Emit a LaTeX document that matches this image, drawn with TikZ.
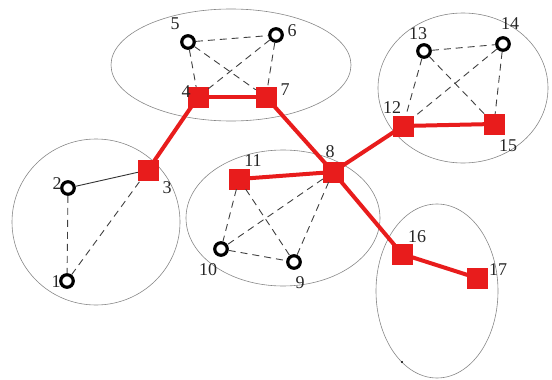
\documentclass[tikz,border=0pt]{standalone}
\usepackage{fontspec}
\setmainfont{Liberation Serif}
\definecolor{netred}{RGB}{232,28,28}
\definecolor{ringgray}{RGB}{135,135,135}
\begin{document}
\begin{tikzpicture}[x=1pt,y=-1pt,
  hub/.style={draw=netred,fill=netred,minimum size=20pt,inner sep=0pt,rectangle},
  leaf/.style={draw=black,fill=white,line width=3.2pt,circle,minimum size=12.5pt,inner sep=0pt},
  lbl/.style={font=\fontsize{18}{18}\selectfont,inner sep=0pt,text=black!85},
  ring/.style={draw=ringgray,line width=0.6pt},
  backbone/.style={draw=netred,line width=4pt},
  link/.style={draw=black!75,line width=0.9pt,dash pattern=on 7pt off 5pt},
  solidlink/.style={draw=black!80,line width=0.9pt}]
\useasboundingbox (0,0) rectangle (552,380);
% clusters
\draw[ring] (231,65) ellipse [x radius=120,y radius=56];
\draw[ring] (96,222) ellipse [x radius=84,y radius=83];
\draw[ring] (283,218) ellipse [x radius=97,y radius=68];
\draw[ring] (463,88) ellipse [x radius=85,y radius=75];
\draw[ring] (437,291) ellipse [x radius=61,y radius=87];
\fill (402,362) circle [radius=1.2pt];
% nodes
\node[leaf] (n5) at (188,42) {};
\node[leaf] (n6) at (276,35) {};
\node[hub] (n4) at (198,97) {};
\node[hub] (n7) at (266,97) {};
\node[hub] (n3) at (148,170) {};
\node[leaf] (n2) at (68,188) {};
\node[leaf] (n1) at (67,281) {};
\node[hub] (n8) at (333,172) {};
\node[hub] (n11) at (239,179) {};
\node[leaf] (n10) at (221,249) {};
\node[leaf] (n9) at (294,262) {};
\node[hub] (n12) at (403,126) {};
\node[leaf] (n13) at (424,51) {};
\node[leaf] (n14) at (503,44) {};
\node[hub] (n15) at (494,124) {};
\node[hub] (n16) at (402,254) {};
\node[hub] (n17) at (477,278) {};
% labels
\node[lbl] (l5) at (175,24) {5};
\node[lbl] (l6) at (292,31) {6};
\node[lbl] (l4) at (186,92) {4};
\node[lbl] (l7) at (285,90) {7};
\node[lbl] (l3) at (167,188) {3};
\node[lbl] (l2) at (57,184) {2};
\node[lbl] (l1) at (56,282) {1};
\node[lbl] (l8) at (330,152) {8};
\node[lbl] (l11) at (253,161) {11};
\node[lbl] (l10) at (208,270) {10};
\node[lbl] (l9) at (300,283) {9};
\node[lbl] (l12) at (392,108) {12};
\node[lbl] (l13) at (418,34) {13};
\node[lbl] (l14) at (510,24) {14};
\node[lbl] (l15) at (508,146) {15};
\node[lbl] (l16) at (417,237) {16};
\node[lbl] (l17) at (498,270) {17};
% local links
\draw[solidlink] (n2) -- (n3);
\draw[link] (n2) -- (n1);
\draw[link] (n1) -- (n3);
\draw[link] (n5) -- (n6);
\draw[link] (n5) -- (n4);
\draw[link] (n5) -- (n7);
\draw[link] (n6) -- (n4);
\draw[link] (n6) -- (n7);
\draw[link] (n11) -- (n10);
\draw[link] (n11) -- (n9);
\draw[link] (n8) -- (n10);
\draw[link] (n8) -- (n9);
\draw[link] (n10) -- (n9);
\draw[link] (n13) -- (n14);
\draw[link] (n13) -- (n12);
\draw[link] (n13) -- (n15);
\draw[link] (n14) -- (n12);
\draw[link] (n14) -- (n15);
% backbone
\draw[backbone] (n3.center) -- (n4.center);
\draw[backbone] (n4.center) -- (n7.center);
\draw[backbone] (n7.center) -- (n8.center);
\draw[backbone] (n8.center) -- (n11.center);
\draw[backbone] (n8.center) -- (n12.center);
\draw[backbone] (n12.center) -- (n15.center);
\draw[backbone] (n8.center) -- (n16.center);
\draw[backbone] (n16.center) -- (n17.center);
\end{tikzpicture}
\end{document}
